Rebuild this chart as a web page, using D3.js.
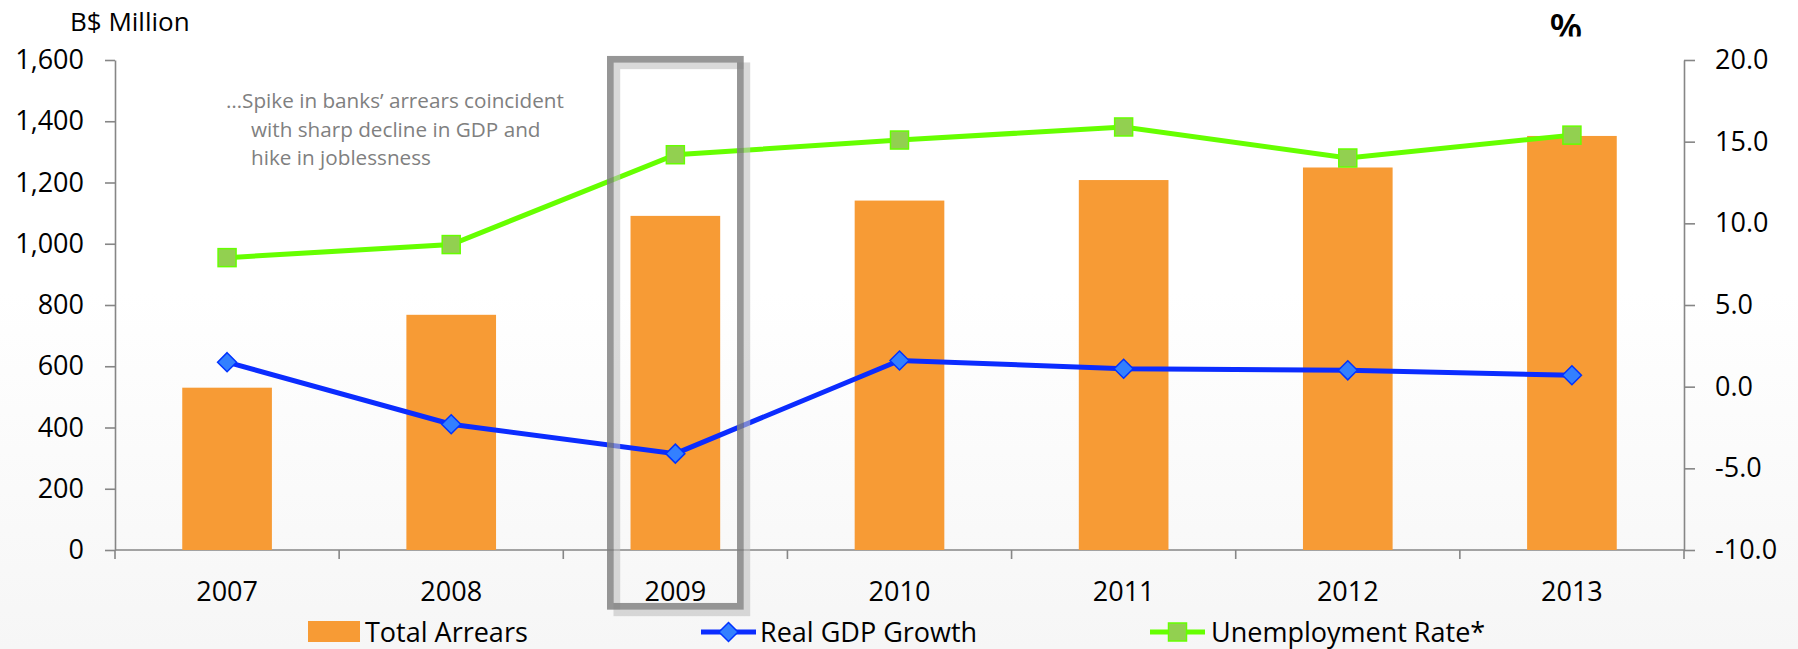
<!DOCTYPE html>
<html>

<head>
    <meta charset="utf-8" />
    <title>Arrears, GDP and Unemployment</title>
    <script type="text/javascript" src="https://cdn.jsdelivr.net/npm/d3@7"></script>
    <style>
        body { margin: 0; background: #fff; }
        svg text { font-family: "Open Sans", "Liberation Sans", sans-serif; }
    </style>
</head>

<body>
    <script type="text/javascript">
        const years = ["2007", "2008", "2009", "2010", "2011", "2012", "2013"];
        const totalArrears = [530, 768, 1091, 1141, 1208, 1249, 1352];
        const gdpGrowth = [1.5, -2.3, -4.1, 1.6, 1.1, 1.0, 0.7];
        const unemployment = [7.9, 8.7, 14.2, 15.1, 15.9, 14.0, 15.4];
        const leftTicks = [0, 200, 400, 600, 800, 1000, 1200, 1400, 1600];
        const rightTicks = [-10, -5, 0, 5, 10, 15, 20];
        const seriesNames = ["Total Arrears", "Real GDP Growth", "Unemployment Rate*"];
        const noteLines = ["\u2026Spike in banks\u2019 arrears coincident", "with sharp decline in GDP and", "hike in joblessness"];
        const highlightYear = "2009";

        const width = 1798, height = 649;
        const margin = { top: 60, left: 115, right: 114, bottom: 99 };
        const orange = "#f79b35", blue = "#0b2cff", green = "#66ff00";
        const axisColor = "#868686";
        const lineW = 5;

        const svg = d3.select("body").append("svg")
            .attr("width", width)
            .attr("height", height);

        // soft background fade like the slide
        const grad = svg.append("defs").append("linearGradient")
            .attr("id", "bg").attr("x1", 0).attr("y1", 0).attr("x2", 0).attr("y2", 1);
        grad.append("stop").attr("offset", "0%").attr("stop-color", "#ffffff");
        grad.append("stop").attr("offset", "45%").attr("stop-color", "#ffffff");
        grad.append("stop").attr("offset", "100%").attr("stop-color", "#f6f6f6");
        svg.append("rect").attr("width", width).attr("height", height).attr("fill", "url(#bg)");

        const x = d3.scaleBand()
            .domain(years)
            .range([margin.left, width - margin.right])
            .padding(0);

        const yLeft = d3.scaleLinear()
            .domain([0, 1600])
            .range([height - margin.bottom, margin.top]);

        const yRight = d3.scaleLinear()
            .domain([-10, 20])
            .range([height - margin.bottom, margin.top]);

        const band = x.bandwidth();
        const cx = (d) => x(d) + band / 2;
        const yBase = yLeft(0);

        // axes
        const styleAxis = (g) => {
            g.selectAll("path, line").attr("stroke", axisColor).attr("stroke-width", 1.6);
            g.selectAll("text").attr("fill", "#000").style("font-size", "27px").attr("font-family", null);
        };

        svg.append("g")
            .attr("transform", `translate(${margin.left},0)`)
            .call(d3.axisLeft(yLeft)
                .tickValues(leftTicks)
                .tickFormat(d3.format(","))
                .tickSize(10)
                .tickSizeOuter(0)
                .tickPadding(21))
            .call(styleAxis);

        svg.append("g")
            .attr("transform", `translate(${width - margin.right},0)`)
            .call(d3.axisRight(yRight)
                .tickValues(rightTicks)
                .tickFormat((d) => d3.format(".1f")(d).replace("\u2212", "-"))
                .tickSize(11)
                .tickSizeOuter(0)
                .tickPadding(20))
            .call(styleAxis);

        // category axis: ticks on the band edges, labels in the middle
        const xAxisG = svg.append("g").attr("class", "x-axis");
        xAxisG.append("line")
            .attr("x1", margin.left).attr("x2", width - margin.right)
            .attr("y1", yBase).attr("y2", yBase)
            .attr("stroke", axisColor).attr("stroke-width", 1.6);
        const edges = years.map((d) => x(d)).concat([x(years[years.length - 1]) + band]);
        xAxisG.selectAll("line.tick")
            .data(edges)
            .enter().append("line")
            .attr("class", "tick")
            .attr("x1", (d) => d).attr("x2", (d) => d)
            .attr("y1", yBase).attr("y2", yBase + 9)
            .attr("stroke", axisColor).attr("stroke-width", 1.6);
        xAxisG.selectAll("text")
            .data(years)
            .enter().append("text")
            .attr("x", cx)
            .attr("y", yBase + 51)
            .attr("text-anchor", "middle")
            .style("font-size", "27px")
            .text((d) => d);

        // bars
        svg.append("g").selectAll("rect")
            .data(years)
            .enter().append("rect")
            .attr("x", (d) => x(d) + band * 0.3)
            .attr("width", band * 0.4)
            .attr("y", (d, i) => yLeft(totalArrears[i]))
            .attr("height", (d, i) => yBase - yLeft(totalArrears[i]))
            .attr("fill", orange);

        // lines
        const line = d3.line().x((d) => cx(d[0])).y((d) => yRight(d[1]));
        const gdpPts = years.map((d, i) => [d, gdpGrowth[i]]);
        const unempPts = years.map((d, i) => [d, unemployment[i]]);

        svg.append("path")
            .datum(unempPts)
            .attr("d", line)
            .attr("fill", "none")
            .attr("stroke", green)
            .attr("stroke-width", lineW);

        svg.append("path")
            .datum(gdpPts)
            .attr("d", line)
            .attr("fill", "none")
            .attr("stroke", blue)
            .attr("stroke-width", lineW);

        const diamond = (r) => `M0,${-r}L${r},0L0,${r}L${-r},0Z`;

        svg.append("g").selectAll("rect")
            .data(unempPts)
            .enter().append("rect")
            .attr("x", (d) => cx(d[0]) - 9)
            .attr("y", (d) => yRight(d[1]) - 9)
            .attr("width", 18).attr("height", 18)
            .attr("fill", "#92d050")
            .attr("stroke", green)
            .attr("stroke-width", 1.5);

        svg.append("g").selectAll("path")
            .data(gdpPts)
            .enter().append("path")
            .attr("transform", (d) => `translate(${cx(d[0])},${yRight(d[1])})`)
            .attr("d", diamond(9.5))
            .attr("fill", "#3380ff")
            .attr("stroke", "#0033ff")
            .attr("stroke-width", 1.5);

        // highlight box around 2009
        const bx = cx(highlightYear) - band * 0.29,
            bw = band * 0.58,
            by = margin.top - 0.7,
            bh = 606.3 - by;
        svg.append("rect")
            .attr("x", bx + 6.5).attr("y", by + 6.5)
            .attr("width", bw).attr("height", bh)
            .attr("fill", "none")
            .attr("stroke", "#bfbfbf").attr("stroke-opacity", 0.6)
            .attr("stroke-width", 6.7);
        svg.append("rect")
            .attr("x", bx).attr("y", by)
            .attr("width", bw).attr("height", bh)
            .attr("fill", "none")
            .attr("stroke", "#7f7f7f").attr("stroke-opacity", 0.82)
            .attr("stroke-width", 6.7);

        // note
        svg.append("g").selectAll("text")
            .data(noteLines)
            .enter().append("text")
            .attr("x", (d, i) => i === 0 ? 226 : 251)
            .attr("y", (d, i) => 108 + i * 28.5)
            .attr("fill", "#808080")
            .style("font-size", "20.7px")
            .text((d) => d);

        // axis titles
        svg.append("text")
            .attr("x", 70).attr("y", 31)
            .style("font-size", "26px")
            .text("B$ Million");

        svg.append("clipPath").attr("id", "pctClip")
            .append("rect").attr("x", 1530).attr("y", 0).attr("width", 80).attr("height", 36.5);
        svg.append("text")
            .attr("x", 1566).attr("y", 41)
            .attr("text-anchor", "middle")
            .attr("clip-path", "url(#pctClip)")
            .style("font-size", "38px")
            .style("font-weight", 600)
            .text("%");

        // legend
        const legend = svg.append("g");
        const ly = 632;
        legend.append("rect")
            .attr("x", 308).attr("y", ly - 11).attr("width", 52).attr("height", 21)
            .attr("fill", orange);
        legend.append("line")
            .attr("x1", 701).attr("x2", 756).attr("y1", ly).attr("y2", ly)
            .attr("stroke", blue).attr("stroke-width", lineW);
        legend.append("path")
            .attr("transform", `translate(728.5,${ly})`)
            .attr("d", diamond(9.5))
            .attr("fill", "#3380ff").attr("stroke", "#0033ff").attr("stroke-width", 1.5);
        legend.append("line")
            .attr("x1", 1150).attr("x2", 1205).attr("y1", ly).attr("y2", ly)
            .attr("stroke", green).attr("stroke-width", lineW);
        legend.append("rect")
            .attr("x", 1168.5).attr("y", ly - 9).attr("width", 18).attr("height", 18)
            .attr("fill", "#92d050").attr("stroke", green).attr("stroke-width", 1.5);
        legend.selectAll("text")
            .data(seriesNames)
            .enter().append("text")
            .attr("x", (d, i) => [365, 760, 1211][i])
            .attr("y", ly + 9.5)
            .style("font-size", "27px")
            .text((d) => d);
    </script>
</body>

</html>
